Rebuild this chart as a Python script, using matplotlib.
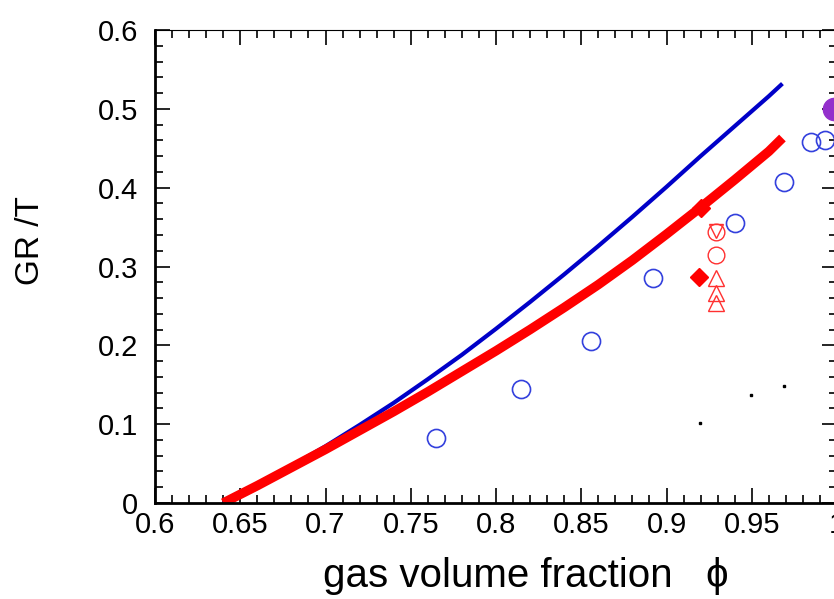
import matplotlib
matplotlib.use('Agg')
import matplotlib.pyplot as plt
from matplotlib.ticker import MultipleLocator

# model curves
phi_blue = [0.64, 0.66, 0.68, 0.70, 0.72, 0.74, 0.76, 0.78, 0.80, 0.82,
            0.84, 0.86, 0.88, 0.90, 0.92, 0.94, 0.96, 0.968]
gr_blue = [0.0, 0.023, 0.047, 0.072, 0.099, 0.127, 0.157, 0.188, 0.221, 0.255,
           0.290, 0.326, 0.363, 0.401, 0.440, 0.478, 0.516, 0.532]

phi_red = [0.64, 0.66, 0.68, 0.70, 0.72, 0.74, 0.76, 0.78, 0.80, 0.82,
           0.84, 0.86, 0.88, 0.90, 0.92, 0.94, 0.96, 0.968]
gr_red = [0.0, 0.022, 0.045, 0.068, 0.092, 0.116, 0.141, 0.167, 0.193, 0.220,
          0.248, 0.277, 0.308, 0.341, 0.375, 0.410, 0.446, 0.463]

# experimental points
phi_circ = [0.765, 0.8145, 0.8556, 0.892, 0.940, 0.969, 0.985, 0.993]
gr_circ = [0.0825, 0.145, 0.2056, 0.2855, 0.3553, 0.4074, 0.458, 0.4607]

phi_purple = [0.998]
gr_purple = [0.500]

phi_diam = [0.920, 0.919]
gr_diam = [0.374, 0.2864]

phi_rcirc = [0.9293, 0.9293]
gr_rcirc = [0.344, 0.3147]

phi_rdown = [0.9293]
gr_rdown = [0.345]

phi_rup = [0.9293, 0.9293, 0.9293]
gr_rup = [0.2852, 0.2661, 0.2534]

phi_dots = [0.9195, 0.9494, 0.9687]
gr_dots = [0.1015, 0.137, 0.148]

xtick_vals = [0.6, 0.65, 0.7, 0.75, 0.8, 0.85, 0.9, 0.95, 1.0]
xtick_text = ['0.6', '0.65', '0.7', '0.75', '0.8', '0.85', '0.9', '0.95', '1']
ytick_vals = [0, 0.1, 0.2, 0.3, 0.4, 0.5, 0.6]
ytick_text = ['0', '0.1', '0.2', '0.3', '0.4', '0.5', '0.6']

plt.rcParams['font.family'] = ['Liberation Sans', 'DejaVu Sans']

fig = plt.figure(figsize=(8.34, 5.99), dpi=100)
ax = fig.add_axes([155 / 834, 96 / 599, 682 / 834, 473 / 599])

ax.plot(phi_blue, gr_blue, color='#0000c8', lw=3.0, solid_capstyle='butt')
ax.plot(phi_red, gr_red, color='#ff0000', lw=6.8, solid_capstyle='butt')

ax.plot(phi_circ, gr_circ, 'o', ms=13, mfc='none', mec='#3340dd', mew=1.2)
ax.plot(phi_purple, gr_purple, 'o', ms=16, color='#9430cc')
ax.plot(phi_diam, gr_diam, 'D', ms=9.5, color='#ff0000')
ax.plot(phi_rcirc, gr_rcirc, 'o', ms=12, mfc='none', mec='#ff3030', mew=1.0)
ax.plot(phi_rdown, gr_rdown, 'v', ms=10, mfc='none', mec='#ff3030', mew=1.0)
ax.plot(phi_rup, gr_rup, '^', ms=11, mfc='none', mec='#ff3030', mew=1.0)
ax.plot(phi_dots, gr_dots, 's', ms=1.5, color='black')

ax.set_xlim(0.6, 1.0)
ax.set_ylim(0, 0.6)
ax.xaxis.set_minor_locator(MultipleLocator(0.01))
ax.yaxis.set_minor_locator(MultipleLocator(0.02))
ax.set_xticks(xtick_vals)
ax.set_xticklabels(xtick_text)
ax.set_yticks(ytick_vals)
ax.set_yticklabels(ytick_text)

ax.tick_params(which='both', direction='in', top=True, right=True, width=1.2)
ax.tick_params(which='major', length=11)
ax.tick_params(which='minor', length=6)
ax.tick_params(axis='x', labelsize=21, pad=6)
ax.tick_params(axis='y', labelsize=21, pad=12)

ax.spines['bottom'].set_linewidth(2)
ax.spines['left'].set_linewidth(2)
ax.spines['top'].set_linewidth(0.8)

ax.set_xlabel('gas volume fraction   \u03d5', fontsize=29)
ax.xaxis.set_label_coords(0.543, -0.115)
ax.set_ylabel('GR /T', fontsize=24)
ax.yaxis.set_label_coords(-0.16, 0.554)

plt.savefig('out.png', dpi=100)
